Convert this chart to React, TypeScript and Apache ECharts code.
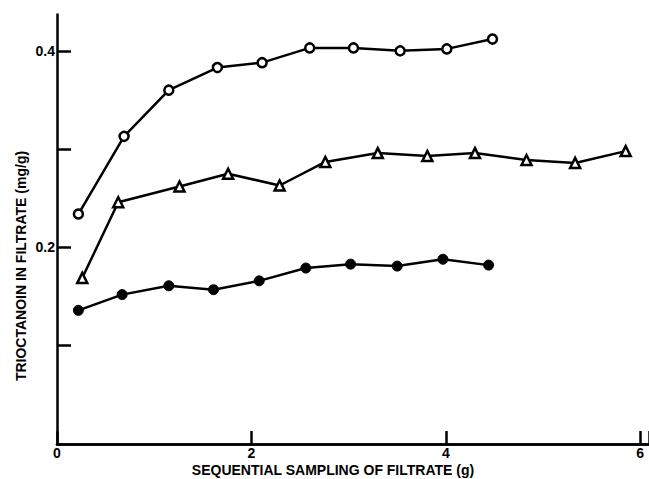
import React, { useEffect, useRef } from "react";
import * as echarts from "echarts";

const openX = [0.22, 0.69, 1.15, 1.65, 2.11, 2.60, 3.05, 3.53, 4.01, 4.48];
const openY = [0.234, 0.313, 0.360, 0.383, 0.388, 0.403, 0.403, 0.400, 0.402, 0.412];
const triX = [0.26, 0.63, 1.26, 1.76, 2.29, 2.76, 3.30, 3.81, 4.30, 4.83, 5.33, 5.85];
const triY = [0.169, 0.246, 0.262, 0.275, 0.263, 0.287, 0.296, 0.293, 0.296, 0.289, 0.286, 0.298];
const filledX = [0.22, 0.67, 1.15, 1.61, 2.08, 2.56, 3.02, 3.50, 3.97, 4.44];
const filledY = [0.136, 0.152, 0.161, 0.157, 0.166, 0.179, 0.183, 0.181, 0.188, 0.182];

const xLabels = [0, 2, 4, 6];
const yTicks = [0.1, 0.2, 0.3, 0.4];
const yLabels = [0.2, 0.4];

const xTitle = "SEQUENTIAL SAMPLING OF FILTRATE (g)";
const yTitle = "TRIOCTANOIN IN FILTRATE (mg/g)";

const zip = (xs: number[], ys: number[]) => xs.map((x, i) => [x, ys[i]]);

export default function App() {
  const ref = useRef<HTMLDivElement>(null);
  useEffect(() => {
    if (!ref.current) return;
    const chart = echarts.init(ref.current, null, { renderer: "svg" });
    const font = "Liberation Sans";
    const lineStyle = { color: "#000", width: 2.5 };
    const axisLine = { color: "#000", width: 2.5 };
    chart.setOption({
      animation: false,
      backgroundColor: "#fff",
      grid: { left: 57, right: -3, top: 14.5, bottom: 35 },
      xAxis: [
        {
          type: "value",
          min: 0,
          max: 6.09,
          interval: 2,
          position: "bottom",
          axisLine: { show: true, onZero: false, lineStyle: axisLine },
          axisTick: { show: true, inside: true, length: 13, lineStyle: axisLine },
          axisLabel: {
            customValues: xLabels,
            color: "#000",
            fontFamily: font,
            fontWeight: "bold",
            fontSize: 14,
            margin: 2,
            formatter: (v: number) => String(v),
          },
          splitLine: { show: false },
        },
        {
          type: "value",
          min: 0,
          max: 6.09,
          position: "top",
          axisLine: { show: true, lineStyle: axisLine },
          axisTick: { show: false },
          axisLabel: { show: false },
          splitLine: { show: false },
        },
      ],
      yAxis: {
        type: "value",
        min: 0,
        max: 0.437,
        axisLine: { show: true, onZero: false, lineStyle: axisLine },
        axisTick: { show: true, inside: true, length: 14, customValues: yTicks, lineStyle: axisLine },
        axisLabel: {
          customValues: yLabels,
          color: "#000",
          fontFamily: font,
          fontWeight: "bold",
          fontSize: 14,
          margin: 2,
          formatter: (v: number) => v.toFixed(1),
        },
        splitLine: { show: false },
      },
      graphic: [
        {
          type: "text",
          x: 333,
          y: 470,
          style: {
            text: xTitle,
            fill: "#000",
            font: `bold 14px "${font}"`,
            textAlign: "center",
            textVerticalAlign: "middle",
          },
        },
        {
          type: "text",
          x: 21,
          y: 266,
          rotation: Math.PI / 2,
          style: {
            text: yTitle,
            fill: "#000",
            font: `bold 14px "${font}"`,
            textAlign: "center",
            textVerticalAlign: "middle",
          },
        },
      ],
      series: [
        {
          type: "line",
          data: zip(openX, openY),
          symbol: "circle",
          symbolSize: 9,
          lineStyle,
          itemStyle: { color: "#fff", borderColor: "#000", borderWidth: 2.5 },
        },
        {
          type: "line",
          data: zip(triX, triY),
          symbol: "triangle",
          symbolSize: 10,
          lineStyle,
          itemStyle: { color: "#fff", borderColor: "#000", borderWidth: 2.5 },
        },
        {
          type: "line",
          data: zip(filledX, filledY),
          symbol: "circle",
          symbolSize: 10,
          lineStyle,
          itemStyle: { color: "#000", borderColor: "#000", borderWidth: 1 },
        },
      ],
    });
    return () => chart.dispose();
  }, []);
  return (
    <div
      ref={ref}
      style={{ position: "fixed", left: 0, top: 0, width: 649, height: 479, background: "#fff" }}
    />
  );
}
